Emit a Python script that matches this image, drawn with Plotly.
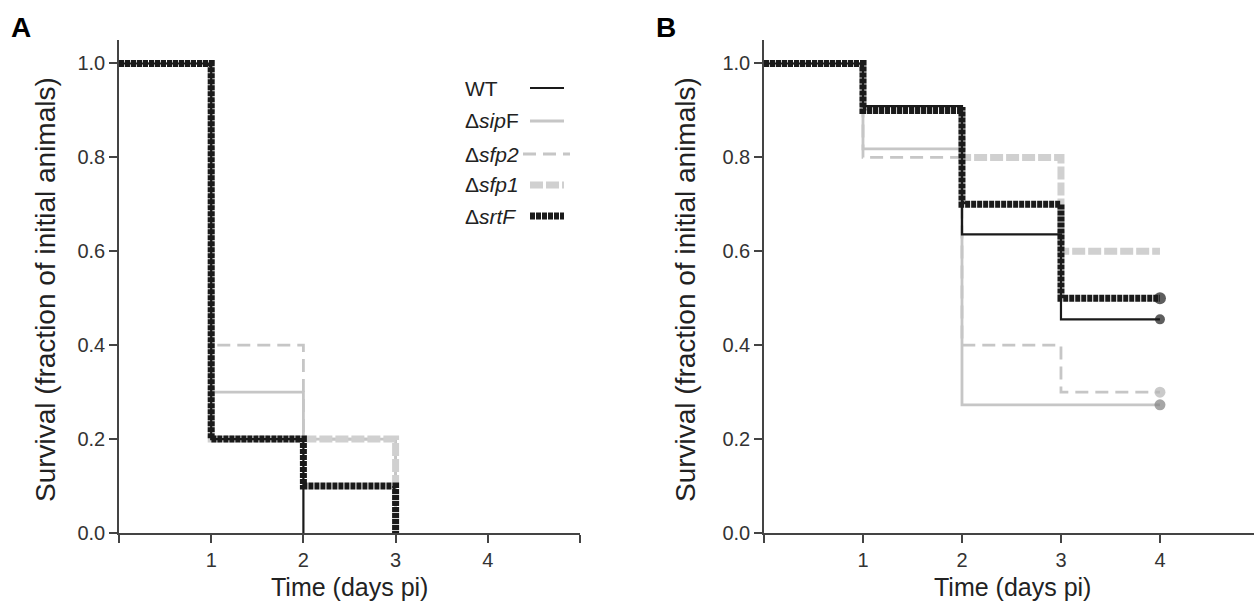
import plotly.graph_objects as go

# ---------------- data ----------------
series_names = ["WT", "Δ<i>sip</i>F", "Δ<i>sfp2</i>", "Δ<i>sfp1</i>", "Δ<i>srtF</i>"]

# Panel A (days 0..3)
a_days_wt = [0, 1, 2]
a_wt = [1.0, 0.2, 0.0]
a_days = [0, 1, 2, 3]
a_sipF = [1.0, 0.3, 0.2, 0.0]
a_sfp2 = [1.0, 0.4, 0.2, 0.0]
a_sfp1 = [1.0, 0.2, 0.2, 0.0]
a_srtF = [1.0, 0.2, 0.1, 0.0]

# Panel B (days 0..4)
b_days = [0, 1, 2, 3, 4]
b_wt = [1.0, 0.909, 0.636, 0.455, 0.455]
b_sipF = [1.0, 0.818, 0.273, 0.273, 0.273]
b_sfp2 = [1.0, 0.8, 0.4, 0.3, 0.3]
b_sfp1 = [1.0, 0.9, 0.8, 0.6, 0.6]
b_srtF = [1.0, 0.9, 0.7, 0.5, 0.5]

y_ticks = [0.0, 0.2, 0.4, 0.6, 0.8, 1.0]
y_ticktext = ["0.0", "0.2", "0.4", "0.6", "0.8", "1.0"]
a_xticks = [0, 1, 2, 3, 4, 5]
a_xticktext = ["", "1", "2", "3", "4", ""]
b_xticks = [0, 1, 2, 3, 4]
b_xticktext = ["", "1", "2", "3", "4"]

# ---------------- styles ----------------
BLACK = "#1a1a1a"
LGRAY = "#c6c6c6"
TGRAY = "#d0d0d0"
styles = {
    "WT": dict(color=BLACK, width=2.2, dash="solid"),
    "sipF": dict(color=LGRAY, width=2.8, dash="solid"),
    "sfp2": dict(color=LGRAY, width=2.8, dash="13px,7px"),
    "sfp1": dict(color=TGRAY, width=7, dash="13px,3px"),
    "srtF": dict(color=BLACK, width=7, dash="5px,1px"),
}

FONT = "Liberation Sans, Arial, sans-serif"
W, H = 1254, 609
L, R, T, B = 119, 0, 40, 76
PW, PH = W - L - R, H - T - B


def px(xp):
    return (xp - L) / PW


def py(yp):
    return (H - B - yp) / PH


fig = go.Figure()


def step(x, y, key, xa, ya, end_marker=None):
    st = styles[key]
    if end_marker:
        sizes = [0] * (len(x) - 1) + [end_marker[1]]
        kw = dict(mode="lines+markers",
                  marker=dict(size=sizes, color=end_marker[0], line=dict(width=0)))
    else:
        kw = dict(mode="lines")
    fig.add_trace(go.Scatter(x=x, y=y, line=dict(shape="hv", **st),
                             xaxis=xa, yaxis=ya, showlegend=False,
                             hoverinfo="skip", **kw))


# Panel A
step(a_days, a_sipF, "sipF", "x", "y")
step(a_days, a_sfp2, "sfp2", "x", "y")
step(a_days, a_sfp1, "sfp1", "x", "y")
step(a_days_wt, a_wt, "WT", "x", "y")
step(a_days, a_srtF, "srtF", "x", "y")

# Panel B
step(b_days, b_sipF, "sipF", "x2", "y2", end_marker=("#808080", 11))
step(b_days, b_sfp2, "sfp2", "x2", "y2", end_marker=("#b4b4b4", 11))
step(b_days, b_sfp1, "sfp1", "x2", "y2")
step(b_days, b_wt, "WT", "x2", "y2", end_marker=(BLACK, 10))
step(b_days, b_srtF, "srtF", "x2", "y2", end_marker=(BLACK, 12))

axis_common = dict(showgrid=False, zeroline=False, showline=True,
                   linecolor="#444", linewidth=1.5, ticks="outside",
                   ticklen=8, tickwidth=1.5, tickcolor="#444",
                   tickfont=dict(family=FONT, size=20, color="#333"))

a_dom = [0, px(580)]
b_dom = [px(764), 1.0]

fig.update_layout(
    width=W, height=H,
    margin=dict(l=L, r=R, t=T, b=B),
    paper_bgcolor="white", plot_bgcolor="white",
    font=dict(family=FONT, color="#222"),
    xaxis=dict(domain=a_dom, range=[0, 5], tickvals=a_xticks,
               ticktext=a_xticktext, anchor="y", **axis_common),
    yaxis=dict(domain=[0, 1], range=[0, 1.05], tickvals=y_ticks,
               ticktext=y_ticktext, anchor="x", **axis_common),
    xaxis2=dict(domain=b_dom, range=[0, 4.95], tickvals=b_xticks,
                ticktext=b_xticktext, anchor="y2", **axis_common),
    yaxis2=dict(domain=[0, 1], range=[0, 1.05], tickvals=y_ticks,
                ticktext=y_ticktext, anchor="x2", **axis_common),
)

ann = []
# axis titles
for cx in (349, 1012):
    ann.append(dict(x=px(cx), y=py(587), xref="paper", yref="paper",
                    text="Time (days pi)", showarrow=False,
                    font=dict(family=FONT, size=25, color="#222"),
                    xanchor="center", yanchor="middle"))
for cx in (45, 685):
    ann.append(dict(x=px(cx), y=py(290), xref="paper", yref="paper",
                    text="Survival (fraction of initial animals)", showarrow=False,
                    textangle=-90,
                    font=dict(family=FONT, size=28, color="#222"),
                    xanchor="center", yanchor="middle"))
# panel letters
for lx, letter in ((9, "A"), (654, "B")):
    ann.append(dict(x=px(lx), y=py(10), xref="paper", yref="paper",
                    text=f"<b>{letter}</b>", showarrow=False,
                    font=dict(family=FONT, size=28, color="#000"),
                    xanchor="left", yanchor="top"))

# manual legend (text on the left, sample on the right)
legend_rows = [88, 121, 154, 185, 216]
legend_keys = ["WT", "sipF", "sfp2", "sfp1", "srtF"]
shapes = []
for name, key, ry in zip(series_names, legend_keys, legend_rows):
    ann.append(dict(x=px(463), y=py(ry), xref="paper", yref="paper",
                    text=name, showarrow=False,
                    font=dict(family=FONT, size=21, color="#222"),
                    xanchor="left", yanchor="middle"))
    st = styles[key]
    x0, x1 = (523, 570) if key == "sfp2" else (530, 564)
    shapes.append(dict(type="line", xref="paper", yref="paper",
                       x0=px(x0), x1=px(x1), y0=py(ry), y1=py(ry),
                       line=dict(color=st["color"], width=st["width"],
                                 dash=st["dash"])))

fig.update_layout(annotations=ann, shapes=shapes)

fig.write_html("out.html",
               config={"displayModeBar": False},
               post_script="document.body.style.margin='0px';"
                           "document.body.style.overflow='hidden';")
